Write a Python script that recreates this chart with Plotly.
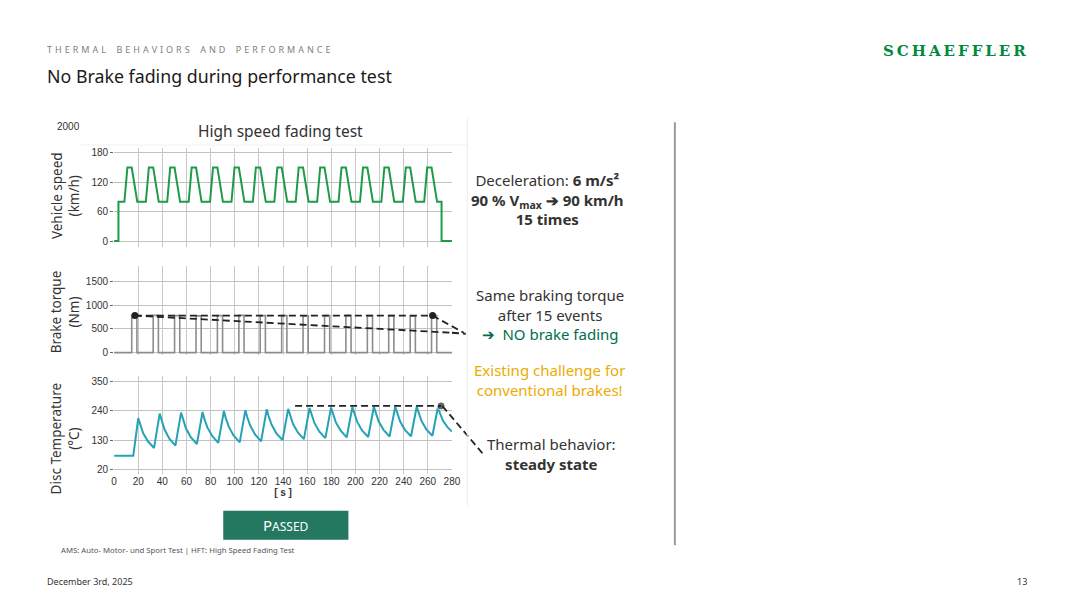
import plotly.graph_objects as go

# the page body keeps its default 8px margin; the figure is kept a little smaller
# than the window so nothing overflows, and positions are given in slide pixels
PAD = 8
W, H = 1056, 584


def px(x):
    return (x - PAD) / W


def py(y):
    return 1 - (y - PAD) / H


# time axis [s]
time_ticks = [0, 20, 40, 60, 80, 100, 120, 140, 160, 180, 200, 220, 240, 260, 280]

# vehicle speed (km/h): 15 accelerate / brake events
speed_ticks = [0, 60, 120, 180]
speed_low = 80
speed_high = 150
launch_time = 3.6
stop_time = 271.4
accel_start = [8.5, 26.3, 44.0, 61.8, 79.5, 97.3, 115.0, 132.8, 150.5, 168.3, 186.0, 203.8, 221.5, 239.3, 257.0]
accel_end = [11.0, 28.8, 46.5, 64.3, 82.0, 99.8, 117.5, 135.3, 153.0, 170.8, 188.5, 206.3, 224.0, 241.8, 259.5]
brake_start = [14.6, 32.4, 50.1, 67.9, 85.6, 103.4, 121.1, 138.9, 156.6, 174.4, 192.1, 209.9, 227.6, 245.4, 263.1]
brake_end = [19.2, 37.0, 54.7, 72.5, 90.2, 108.0, 125.7, 143.5, 161.2, 179.0, 196.7, 214.5, 232.2, 250.0, 267.7]

# brake torque (Nm)
torque_ticks = [0, 500, 1000, 1500]
torque_off = [18.9, 36.7, 54.4, 72.2, 89.9, 107.7, 125.4, 143.2, 160.9, 178.7, 196.4, 214.2, 231.9, 249.7, 267.4]
torque_peak = [780, 785, 780, 775, 780, 785, 780, 780, 775, 780, 785, 780, 780, 775, 780]

# disc temperature (°C)
temp_ticks = [20, 130, 240, 350]
temp_time = [0, 15.9,
             20.0, 21.5, 24.0, 28.0, 33.1,
             37.8, 39.3, 41.8, 45.8, 50.8,
             55.5, 57.0, 59.5, 63.5, 68.6,
             73.3, 74.8, 77.3, 81.3, 86.3,
             91.0, 92.5, 95.0, 99.0, 104.1,
             108.8, 110.3, 112.8, 116.8, 121.8,
             126.5, 128.0, 130.5, 134.5, 139.6,
             144.3, 145.8, 148.3, 152.3, 157.3,
             162.0, 163.5, 166.0, 170.0, 175.1,
             179.8, 181.3, 183.8, 187.8, 192.8,
             197.5, 199.0, 201.5, 205.5, 210.6,
             215.3, 216.8, 219.3, 223.3, 228.3,
             233.0, 234.5, 237.0, 241.0, 246.1,
             250.8, 252.3, 254.8, 258.8, 263.8,
             268.5, 270.0, 272.5, 276.5, 280.0]
temp_value = [72, 72,
              213, 188, 157, 126, 101,
              230, 204, 170, 136, 110,
              234, 208, 175, 142, 116,
              236, 210, 178, 146, 120,
              240, 214, 181, 148, 122,
              243, 217, 185, 152, 126,
              246, 221, 189, 156, 131,
              248, 223, 191, 159, 134,
              251, 226, 195, 163, 138,
              253, 228, 197, 166, 141,
              255, 230, 199, 167, 142,
              256, 231, 200, 169, 144,
              256, 232, 201, 169, 145,
              256, 232, 202, 171, 147,
              257, 233, 204, 178, 163]

# comparison lines
torque_ref_time = [17.2, 264.0]
torque_ref_value = [780, 780]
torque_trend_time = [17.2, 280.0]
torque_trend_value = [780, 418]
temp_ref_time = [150.0, 271.0]
temp_ref_value = [259, 259]

# build step profiles from the event lists
speed_t = [0, launch_time, launch_time]
speed_v = [0, 0, speed_low]
for a0, a1, b0, b1 in zip(accel_start, accel_end, brake_start, brake_end):
    speed_t += [a0, a1, b0, b1]
    speed_v += [speed_low, speed_high, speed_high, speed_low]
speed_t += [stop_time, stop_time, 280]
speed_v += [speed_low, 0, 0]

torque_t, torque_v = [0], [0]
for t0, t1, p in zip(brake_start, torque_off, torque_peak):
    torque_t += [t0, t0, t1, t1]
    torque_v += [0, p, p, 0]
torque_t.append(280)
torque_v.append(0)

DARK = '#333333'
DASH = '7px,4px'
TICKFONT = dict(family='Liberation Sans, Arial, sans-serif', size=10, color=DARK)

fig = go.Figure()
fig.add_trace(go.Scatter(x=speed_t, y=speed_v, mode='lines', xaxis='x', yaxis='y',
                         line=dict(color='#1f9a4a', width=2)))
fig.add_trace(go.Scatter(x=torque_t, y=torque_v, mode='lines', xaxis='x2', yaxis='y2',
                         line=dict(color='#8c8c8c', width=1.6)))
fig.add_trace(go.Scatter(x=torque_trend_time, y=torque_trend_value, mode='lines', xaxis='x2', yaxis='y2',
                         line=dict(color='#222222', width=1.8, dash=DASH)))
fig.add_trace(go.Scatter(x=torque_ref_time, y=torque_ref_value, mode='lines+markers', xaxis='x2', yaxis='y2',
                         line=dict(color='#222222', width=1.8, dash=DASH),
                         marker=dict(size=7, color='#222222'), cliponaxis=False))
fig.add_trace(go.Scatter(x=temp_time, y=temp_value, mode='lines', xaxis='x3', yaxis='y3',
                         line=dict(color='#26a2b6', width=2)))
fig.add_trace(go.Scatter(x=temp_ref_time, y=temp_ref_value, mode='lines+markers', xaxis='x3', yaxis='y3',
                         line=dict(color='#222222', width=1.8, dash=DASH),
                         marker=dict(size=[0, 8], color='#222222'), cliponaxis=False))

x_dom = [px(112.3), px(454)]
xbase = dict(range=[0, 280], tickvals=time_ticks, showgrid=True, gridcolor='#c8c8c8', gridwidth=1,
             zeroline=False, showline=False, domain=x_dom, ticks='', tickfont=TICKFONT)
ybase = dict(showgrid=True, gridcolor='#c2c2c2', gridwidth=1, zeroline=False, showline=False,
             ticks='outside', ticklen=3, tickcolor='#666666', tickfont=TICKFONT)

fig.update_layout(
    width=W, height=H,
    margin=dict(l=0, r=0, t=0, b=0),
    paper_bgcolor='white', plot_bgcolor='white',
    showlegend=False,
    font=dict(family='Noto Sans, Open Sans, sans-serif', color=DARK),
    xaxis=dict(xbase, anchor='y', showticklabels=False),
    xaxis2=dict(xbase, anchor='y2', showticklabels=False),
    xaxis3=dict(xbase, anchor='y3', showticklabels=True,
                title=dict(text='<b>[ s ]</b>', font=dict(family='Liberation Sans, Arial', size=10, color=DARK),
                           standoff=2)),
    yaxis=dict(ybase, anchor='x', domain=[py(248), py(148)], range=[-12.8, 189.7], tickvals=speed_ticks),
    yaxis2=dict(ybase, anchor='x2', domain=[py(356), py(266.7)], range=[-42, 1826], tickvals=torque_ticks),
    yaxis3=dict(ybase, anchor='x3', domain=[py(476.7), py(378)], range=[1.3, 369.6], tickvals=temp_ticks),
)

dash_line = dict(color='#222222', width=1.8, dash=DASH)
fig.update_layout(shapes=[
    # leaders from the chart to the comments
    dict(type='line', xref='paper', yref='paper', x0=px(434.3), y0=py(316.7), x1=px(466), y1=py(334), line=dash_line),
    dict(type='line', xref='paper', yref='paper', x0=px(454), y0=py(334), x1=px(468), y1=py(335), line=dash_line),
    dict(type='line', xref='paper', yref='paper', x0=px(444.3), y0=py(407.7), x1=px(486), y1=py(456.7), line=dash_line),
    # image edges of the pasted chart
    dict(type='line', xref='paper', yref='paper', x0=px(469.5), y0=py(118), x1=px(469.5), y1=py(508),
         line=dict(color='#ececec', width=1)),
    dict(type='line', xref='paper', yref='paper', x0=px(78), y0=py(145), x1=px(469.5), y1=py(145),
         line=dict(color='#f0f0f0', width=1)),
    # divider
    dict(type='line', xref='paper', yref='paper', x0=px(679.5), y0=py(122), x1=px(679.5), y1=py(548),
         line=dict(color='#9a9a9a', width=2)),
    # PASSED badge
    dict(type='rect', xref='paper', yref='paper', x0=px(222.7), y0=py(542.3), x1=px(349.3), y1=py(513.3),
         fillcolor='#23785f', line=dict(width=0)),
])


def note(text, x, y, size, color=DARK, xanchor='center', family=None, angle=0):
    f = dict(size=size, color=color)
    if family:
        f['family'] = family
    fig.add_annotation(text=text, x=px(x), y=py(y), xref='paper', yref='paper', showarrow=False,
                       xanchor=xanchor, yanchor='middle', align='center', font=f, textangle=angle)


gap = '\u2004'
word_gap = '\u2004\u2002\u2004'
header = word_gap.join(gap.join(w) for w in ['THERMAL', 'BEHAVIORS', 'AND', 'PERFORMANCE'])
note(header, 42, 49, 9, color='#808080', xanchor='left')
note('No Brake fading during performance test', 42, 75, 17.8, color='#1a1a1a', xanchor='left')
note('<b>' + '\u2009'.join('SCHAEFFLER') + '</b>', 1037, 50, 15, color='#00893d', xanchor='right',
     family='DejaVu Serif, serif')

note('2000', 52, 126, 10, xanchor='left', family='Liberation Sans, Arial')
note('High speed fading test', 281, 131, 15.5)
note('Vehicle speed<br>(km/h)', 63, 196, 13.5, angle=-90)
note('Brake torque<br>(Nm)', 63, 313, 13.5, angle=-90)
note('Disc Temperature<br>(°C)', 63, 440, 13.5, angle=-90)

note('P<span style="font-size:12px">ASSED</span>', 286, 528, 15, color='white')

TXT = 15
note('Deceleration: <b>6 m/s²</b><br><b>90 % V<sub>max</sub> \u2794 90 km/h</b><br><b>15 times</b>',
     551, 199.5, TXT)
note('Same braking torque<br>after 15 events<br>'
     '<span style="color:#006e4b">\u2794  NO brake fading</span>', 553, 316, TXT)
note('Existing challenge for<br>conventional brakes!', 553, 381.5, TXT, color='#ecac00')
note('Thermal behavior:<br><b>steady state</b>', 555, 456.5, TXT)

note('AMS: Auto- Motor- und Sport Test | HFT: High Speed Fading Test', 57, 553, 7.75, color='#555555',
     xanchor='left')
note('December 3rd, 2025', 42, 584, 9, xanchor='left')
note('13', 1038, 584, 9, xanchor='right')

fig.write_html('out.html')
